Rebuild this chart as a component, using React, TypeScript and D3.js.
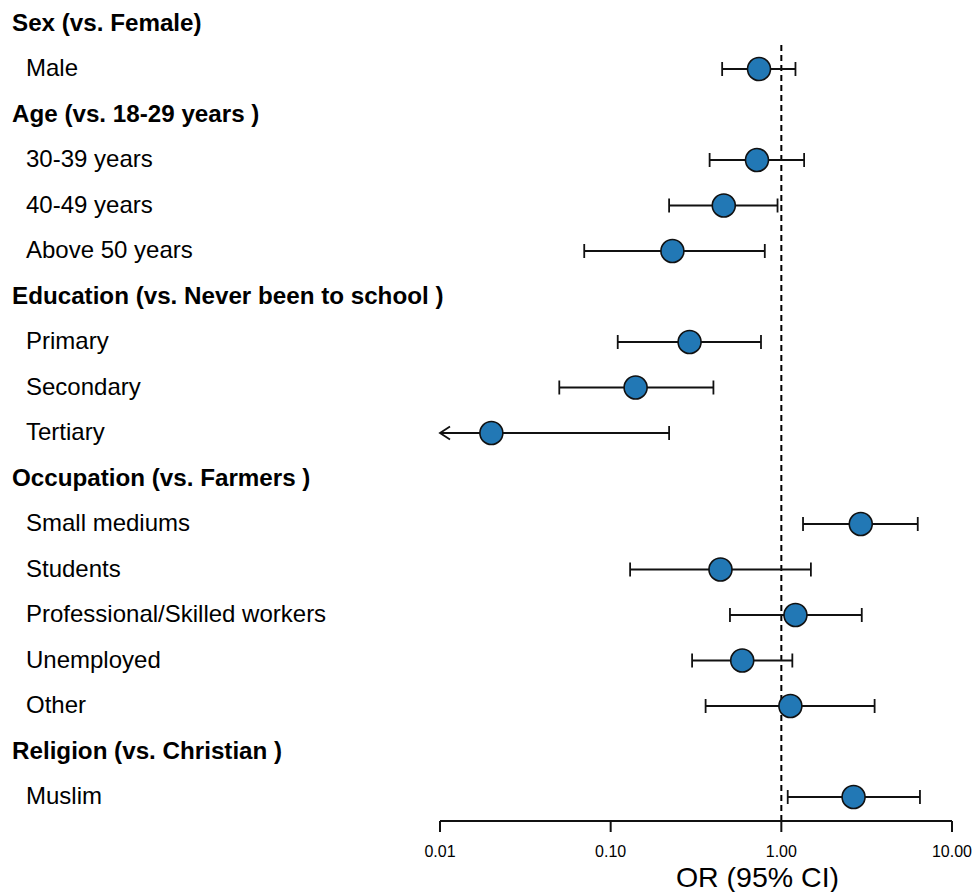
import React from "react";
import * as d3 from "d3";

// Row labels, top to bottom; headers carry no estimate
const labels: string[] = [
  "Sex (vs. Female)",
  "Male",
  "Age (vs. 18-29 years )",
  "30-39 years",
  "40-49 years",
  "Above 50 years",
  "Education (vs. Never been to school )",
  "Primary",
  "Secondary",
  "Tertiary",
  "Occupation (vs. Farmers )",
  "Small mediums",
  "Students",
  "Professional/Skilled workers",
  "Unemployed",
  "Other",
  "Religion (vs. Christian )",
  "Muslim",
];
const isHeader: boolean[] = [
  true, false, true, false, false, false, true, false, false, false,
  true, false, false, false, false, false, true, false,
];
// Odds ratios and 95% confidence limits (null for header rows)
const oddsRatio: (number | null)[] = [
  null, 0.74, null, 0.72, 0.46, 0.23, null, 0.29, 0.14, 0.02,
  null, 2.92, 0.44, 1.21, 0.59, 1.13, null, 2.65,
];
const ciLower: (number | null)[] = [
  null, 0.45, null, 0.38, 0.22, 0.07, null, 0.11, 0.05, 0.003,
  null, 1.34, 0.13, 0.5, 0.3, 0.36, null, 1.09,
];
const ciUpper: (number | null)[] = [
  null, 1.21, null, 1.36, 0.95, 0.8, null, 0.76, 0.4, 0.22,
  null, 6.3, 1.49, 2.96, 1.16, 3.52, null, 6.49,
];
const tickValues: number[] = [0.01, 0.1, 1, 10];
const tickLabels: string[] = ["0.01", "0.10", "1.00", "10.00"];

const W = 973;
const H = 892;
const FONT = "'Liberation Sans', Arial, Helvetica, sans-serif";

export default function App() {
  const x = d3.scaleLog().domain([0.01, 10]).range([440, 952]);
  const y = d3.scaleLinear().domain([0, labels.length - 1]).range([23.5, 797]);
  const axisY = 821;
  const [xMin] = x.domain();
  const capH = 7;
  const blue = "#2278b5";

  return (
    <svg
      width={W}
      height={H}
      style={{ position: "absolute", left: 0, top: 0, background: "#fff" }}
      fontFamily={FONT}
    >
      {/* row labels */}
      {labels.map((lab, i) => (
        <text
          key={"l" + i}
          x={isHeader[i] ? 12 : 26}
          y={y(i) + 7}
          fontSize={isHeader[i] ? 24.2 : 24}
          fontWeight={isHeader[i] ? "bold" : "normal"}
          fill="#000"
        >
          {lab}
        </text>
      ))}

      {/* reference line at OR = 1 */}
      <line
        x1={x(1)}
        x2={x(1)}
        y1={45}
        y2={axisY}
        stroke="#000"
        strokeWidth={2}
        strokeDasharray="6,4"
      />

      {/* confidence intervals and point estimates */}
      {labels.map((_, i) => {
        const or = oddsRatio[i];
        const lo = ciLower[i];
        const hi = ciUpper[i];
        if (or == null || lo == null || hi == null) return null;
        const cy = y(i);
        const truncated = lo < xMin;
        const xl = x(Math.max(lo, xMin));
        const xh = x(hi);
        return (
          <g key={"m" + i} stroke="#111" strokeWidth={1.8} fill="none">
            <line x1={xl} x2={xh} y1={cy} y2={cy} />
            {truncated ? (
              <path d={`M${xl + 10},${cy - 6.5}L${xl},${cy}L${xl + 10},${cy + 6.5}`} />
            ) : (
              <line x1={xl} x2={xl} y1={cy - capH} y2={cy + capH} />
            )}
            <line x1={xh} x2={xh} y1={cy - capH} y2={cy + capH} />
            <circle cx={x(or)} cy={cy} r={11.5} fill={blue} stroke="#111" strokeWidth={1.6} />
          </g>
        );
      })}

      {/* x axis */}
      <line x1={x(0.01)} x2={x(10)} y1={axisY} y2={axisY} stroke="#111" strokeWidth={2} />
      {tickValues.map((t, i) => (
        <g key={"t" + i}>
          <line x1={x(t)} x2={x(t)} y1={axisY} y2={axisY + 11} stroke="#111" strokeWidth={2} />
          <text x={x(t)} y={857} textAnchor="middle" fontSize={16} fill="#000">
            {tickLabels[i]}
          </text>
        </g>
      ))}
      <text x={757.5} y={887} textAnchor="middle" fontSize={28.5} fill="#000">
        OR (95% CI)
      </text>
    </svg>
  );
}
